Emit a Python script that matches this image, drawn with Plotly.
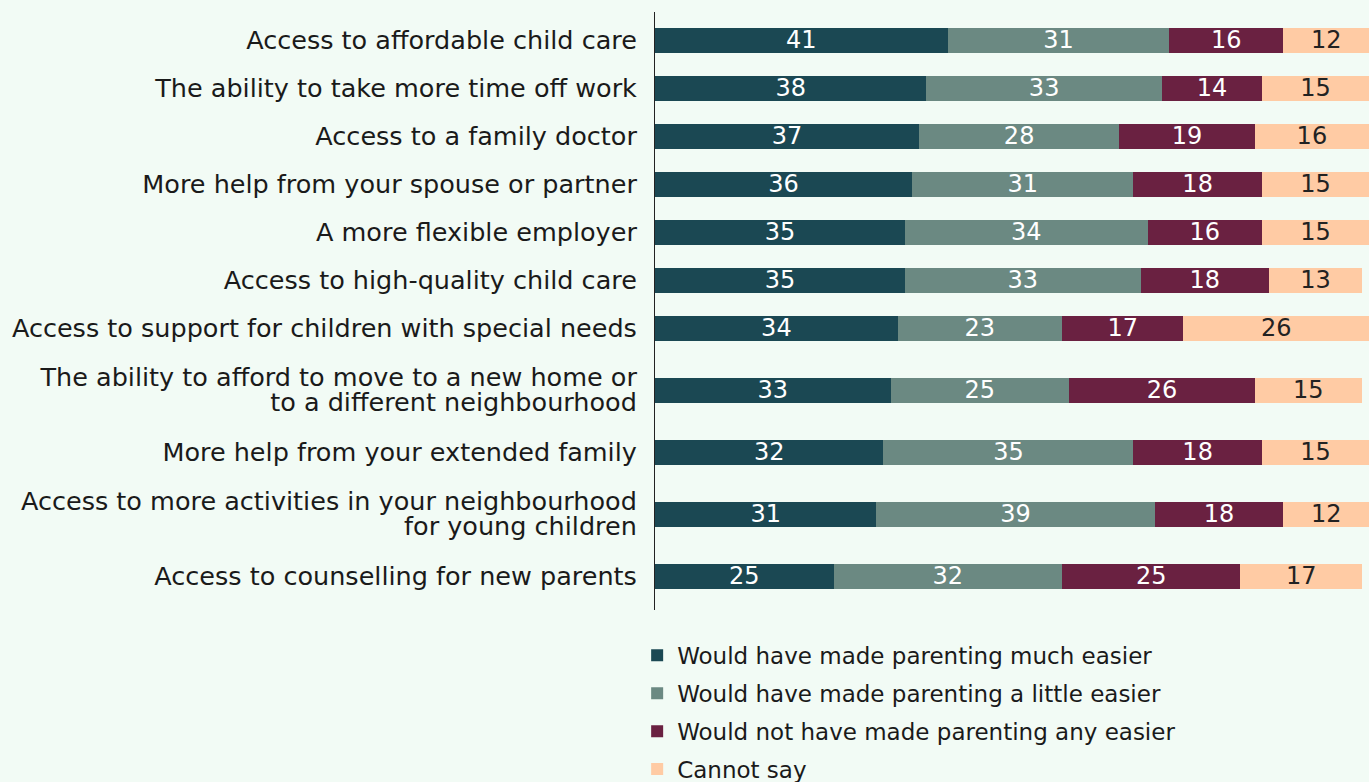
import plotly.graph_objects as go

# Survey items, top to bottom ("\n" marks a line break in the label)
categories = [
    "Access to affordable child care",
    "The ability to take more time off work",
    "Access to a family doctor",
    "More help from your spouse or partner",
    "A more flexible employer",
    "Access to high-quality child care",
    "Access to support for children with special needs",
    "The ability to afford to move to a new home or\nto a different neighbourhood",
    "More help from your extended family",
    "Access to more activities in your neighbourhood\nfor young children",
    "Access to counselling for new parents",
]

much_easier = [41, 38, 37, 36, 35, 35, 34, 33, 32, 31, 25]
little_easier = [31, 33, 28, 31, 34, 33, 23, 25, 35, 39, 32]
not_easier = [16, 14, 19, 18, 16, 18, 17, 26, 18, 18, 25]
cannot_say = [12, 15, 16, 15, 15, 13, 26, 15, 15, 12, 17]

series_names = [
    "Would have made parenting much easier",
    "Would have made parenting a little easier",
    "Would not have made parenting any easier",
    "Cannot say",
]
series_values = [much_easier, little_easier, not_easier, cannot_say]
series_colors = ["#1b4853", "#6b8982", "#6a2141", "#ffcba4"]
label_colors = ["#ffffff", "#ffffff", "#ffffff", "#222222"]

BG = "#f2fbf5"
FONT = "'DejaVu Sans', 'Open Sans', sans-serif"

# Vertical layout in pixel-like units: one-line rows take 48, two-line rows 76
ROW_H = 48
EXTRA_LINE = 28
LINE_GAP = 25
centers = []
pos = 4
for cat in categories:
    n = cat.count("\n") + 1
    h = ROW_H + EXTRA_LINE * (n - 1)
    centers.append(pos + h / 2)
    pos += h
y_max = pos + 10

# Each label line becomes its own tick so the lines sit close together
tick_vals, tick_text = [], []
for cat, c in zip(categories, centers):
    lines = cat.split("\n")
    n = len(lines)
    for i, line in enumerate(lines):
        tick_vals.append(c + (i - (n - 1) / 2) * LINE_GAP)
        tick_text.append(line)

fig = go.Figure()
for i, (name, vals, col, tcol) in enumerate(
    zip(series_names, series_values, series_colors, label_colors)
):
    fig.add_trace(
        go.Bar(
            name=name,
            y=centers,
            x=vals,
            orientation="h",
            width=25,
            marker=dict(color=col, line=dict(width=0)),
            text=[str(v) for v in vals],
            textposition="inside",
            insidetextanchor="middle",
            textangle=0,
            textfont=dict(family=FONT, size=24, color=tcol),
            constraintext="none",
            legendgroup=f"g{i}",
            hoverinfo="x+name",
        )
    )

fig.update_layout(
    barmode="stack",
    width=1369,
    height=782,
    paper_bgcolor=BG,
    plot_bgcolor=BG,
    margin=dict(l=655, r=0, t=12, b=172, autoexpand=False),
    font=dict(family=FONT, color="#1a1a1a"),
    showlegend=True,
    legend=dict(
        orientation="v",
        x=-0.025,
        xanchor="left",
        y=-0.040,
        yanchor="top",
        traceorder="grouped",
        tracegroupgap=5,
        font=dict(family=FONT, size=23, color="#1a1a1a"),
        bgcolor="rgba(0,0,0,0)",
        itemsizing="constant",
    ),
    xaxis=dict(
        range=[0, 100],
        showgrid=False,
        zeroline=False,
        showticklabels=False,
        ticks="",
        fixedrange=True,
    ),
    yaxis=dict(
        range=[y_max, 0],
        tickmode="array",
        tickvals=tick_vals,
        ticktext=tick_text,
        tickfont=dict(family=FONT, size=25.5, color="#1a1a1a"),
        ticks="",
        ticklabelstandoff=12,
        showgrid=False,
        zeroline=False,
        showline=True,
        linecolor="#222222",
        linewidth=1,
        fixedrange=True,
    ),
)

fig.write_html("out.html")
